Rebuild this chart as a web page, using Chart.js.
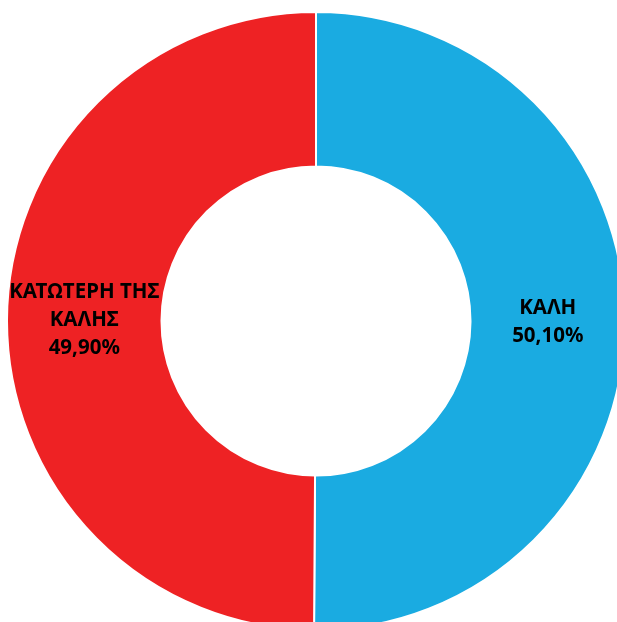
<!DOCTYPE html>
<html>
<head>
<meta charset="utf-8">
<script src="https://cdn.jsdelivr.net/npm/chart.js@4"></script>
<style>
  html, body { margin: 0; padding: 0; background: #fff; overflow: hidden; width: 617px; height: 622px; }
  #wrap { position: absolute; left: 6px; top: 11px; width: 620px; height: 620px; }
</style>
</head>
<body>
<div id="wrap"><canvas id="donut"></canvas></div>
<script>
/* ===== data ===== */
const categories = ["ΚΑΛΗ", "ΚΑΤΩΤΕΡΗ ΤΗΣ ΚΑΛΗΣ"];
const labelLines = [["ΚΑΛΗ"], ["ΚΑΤΩΤΕΡΗ ΤΗΣ", "ΚΑΛΗΣ"]];
const shares = [50.1, 49.9];
const colors = ["#1aabe1", "#ee2224"];

/* ===== labels drawn on each slice ===== */
const sliceLabels = {
    id: "sliceLabels",
    afterDatasetsDraw(chart) {
        const ctx = chart.ctx;
        const meta = chart.getDatasetMeta(0);
        ctx.save();
        ctx.font = "bold 20.5px 'Noto Sans'";
        ctx.fillStyle = "#000";
        ctx.textAlign = "center";
        ctx.textBaseline = "middle";
        meta.data.forEach((arc, i) => {
            const pos = arc.tooltipPosition();
            const pct = shares[i].toFixed(2).replace(".", ",") + "%";
            const lines = labelLines[i].concat([pct]);
            const lh = 28;
            const y0 = pos.y - (lines.length - 1) * lh / 2;
            lines.forEach((t, k) => ctx.fillText(t, pos.x, y0 + k * lh));
        });
        ctx.restore();
    }
};

new Chart(document.getElementById("donut").getContext("2d"), {
    type: "doughnut",
    data: {
        labels: categories,
        datasets: [{
            data: shares,
            backgroundColor: colors,
            borderColor: "#ffffff",
            borderWidth: 2
        }]
    },
    options: {
        responsive: true,
        maintainAspectRatio: false,
        animation: false,
        cutout: "50%",
        layout: { padding: 0 },
        plugins: {
            legend: { display: false },
            tooltip: { enabled: false }
        }
    },
    plugins: [sliceLabels]
});
</script>
</body>
</html>
